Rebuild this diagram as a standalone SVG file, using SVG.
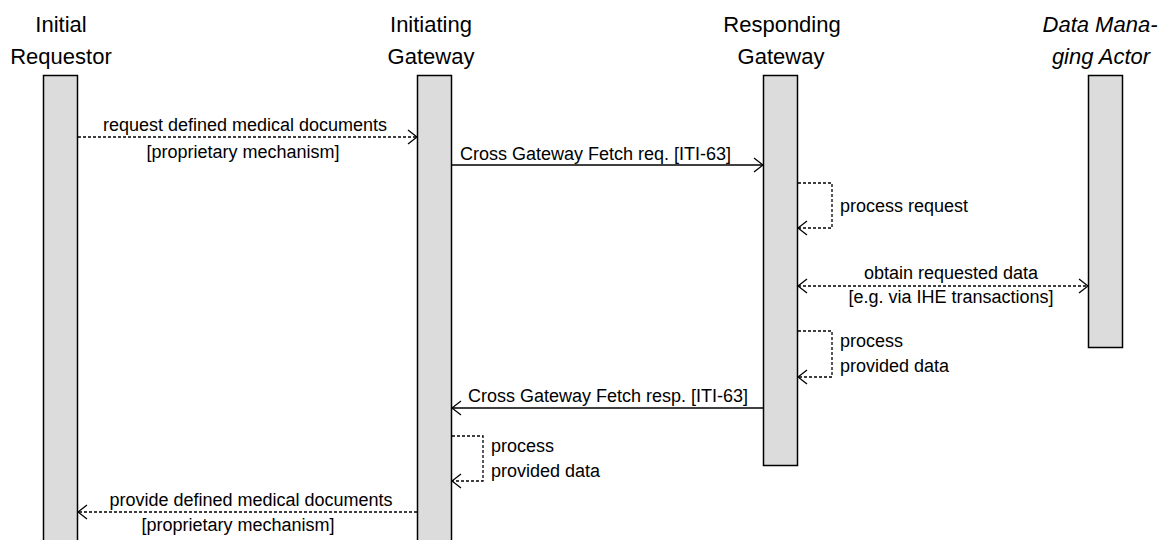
<svg xmlns="http://www.w3.org/2000/svg" width="1175" height="540" viewBox="0 0 1175 540">
  <style>
    .life { fill: #dcdcdc; stroke: #000; stroke-width: 1.5; }
    .hdr { font-family: "Liberation Sans", Arial, sans-serif; font-size: 22px; fill: #000; text-anchor: middle; }
    .it { font-style: italic; }
    .lbl { font-family: "Liberation Sans", Arial, sans-serif; font-size: 18px; fill: #000; }
    .mid { text-anchor: middle; }
    .msg { fill: none; stroke: #000; stroke-width: 1.3; }
    .dash { stroke-dasharray: 3 2; }
  </style>
  <defs>
    <marker id="arr" markerUnits="userSpaceOnUse" viewBox="0 0 10 16" refX="10" refY="8" markerWidth="10" markerHeight="16" orient="auto-start-reverse">
      <path d="M1,1 L10,8 L1,15" fill="none" stroke="#000" stroke-width="1.3" stroke-dasharray="none"/>
    </marker>
  </defs>

  <g id="initial-requestor">
    <text class="hdr" x="61" y="32">Initial</text>
    <text class="hdr" x="61" y="64">Requestor</text>
    <rect class="life" x="43.5" y="75.5" width="34" height="480"/>
  </g>
  <g id="initiating-gateway">
    <text class="hdr" x="431" y="32">Initiating</text>
    <text class="hdr" x="431" y="64">Gateway</text>
    <rect class="life" x="417.5" y="75.5" width="34" height="480"/>
  </g>
  <g id="responding-gateway">
    <text class="hdr" x="782" y="32">Responding</text>
    <text class="hdr" x="781" y="64">Gateway</text>
    <rect class="life" x="763.5" y="75.5" width="34" height="390"/>
  </g>
  <g id="data-managing-actor">
    <text class="hdr it" x="1100" y="32">Data Mana-</text>
    <text class="hdr it" x="1101" y="64">ging Actor</text>
    <rect class="life" x="1088.5" y="75.5" width="34" height="272"/>
  </g>

  <g id="connectors">
    <line class="msg dash" x1="78" y1="137" x2="417" y2="137" marker-end="url(#arr)"/>
    <line class="msg" x1="452" y1="165" x2="763" y2="165" marker-end="url(#arr)"/>
    <path class="msg dash" d="M798,183 H832 V228 H798" marker-end="url(#arr)"/>
    <line class="msg dash" x1="798" y1="286" x2="1088" y2="286" marker-start="url(#arr)" marker-end="url(#arr)"/>
    <path class="msg dash" d="M798,331 H832 V377 H798" marker-end="url(#arr)"/>
    <line class="msg" x1="763" y1="408" x2="452" y2="408" marker-end="url(#arr)"/>
    <path class="msg dash" d="M452,436 H483 V481 H452" marker-end="url(#arr)"/>
    <line class="msg dash" x1="417" y1="512" x2="78" y2="512" marker-end="url(#arr)"/>

    <text class="lbl mid" x="245" y="131">request defined medical documents</text>
    <text class="lbl mid" x="243" y="158">[proprietary mechanism]</text>
    <text class="lbl" x="460" y="160">Cross Gateway Fetch req. [ITI-63]</text>
    <text class="lbl" x="840" y="212">process request</text>
    <text class="lbl mid" x="951" y="279">obtain requested data</text>
    <text class="lbl mid" x="951" y="303">[e.g. via IHE transactions]</text>
    <text class="lbl" x="840" y="347">process</text>
    <text class="lbl" x="840" y="372">provided data</text>
    <text class="lbl" x="468" y="402">Cross Gateway Fetch resp. [ITI-63]</text>
    <text class="lbl" x="491" y="452">process</text>
    <text class="lbl" x="491" y="477">provided data</text>
    <text class="lbl mid" x="251" y="506">provide defined medical documents</text>
    <text class="lbl mid" x="238" y="531">[proprietary mechanism]</text>
  </g>
</svg>
